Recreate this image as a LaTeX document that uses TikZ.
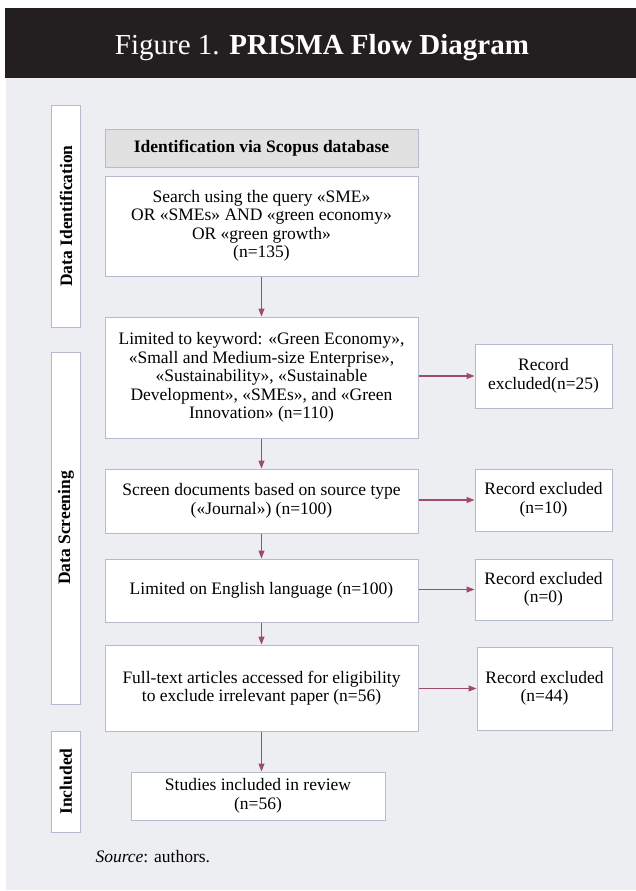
\documentclass[tikz,border=0pt]{standalone}
\usepackage{fontspec}
\setmainfont{Liberation Serif}
\usetikzlibrary{arrows.meta}

\definecolor{barcol}{HTML}{231F20}
\definecolor{bgcol}{HTML}{EDEEF2}
\definecolor{edgecol}{HTML}{B6BACF}
\definecolor{headcol}{HTML}{E1E1E2}
\definecolor{linkcol}{HTML}{9E4A72}

\tikzstyle{element}=[rectangle, draw=edgecol, fill=white, line width=1pt,
                     inner sep=0pt, align=center,
                     font=\fontsize{17.5}{18.5}\selectfont]
\tikzstyle{phase}=[element, rotate=90, font=\fontsize{17.5}{18.5}\selectfont\bfseries]
\tikzstyle{link}=[-{Triangle[length=8pt,width=6pt]}, line width=1.3pt, draw=linkcol, fill=linkcol]

\begin{document}
\begin{tikzpicture}[x=1pt, y=-1pt]

\useasboundingbox (0,0) rectangle (636,891);

%%%%%%%%%%%%%%%%%%%%%%%%%%%%%%
% frame

\fill[bgcol] (6,78) rectangle (636,890);
\fill[barcol] (5,8) rectangle (636,78);
\node (title) at (322,55) [anchor=base, text=white, font=\fontsize{29}{31}\selectfont]
      {Figure 1. \textbf{PRISMA Flow Diagram}};

%%%%%%%%%%%%%%%%%%%%%%%%%%%%%%
% phases

\node (ident_P) at (66,216) [phase, minimum width=222pt, minimum height=29pt] {Data Identification};
\node (screen_P) at (66,528) [phase, minimum width=352pt, minimum height=29pt] {Data Screening};
\node (incl_P) at (66,781.5) [phase, minimum width=101pt, minimum height=29pt] {Included};

%%%%%%%%%%%%%%%%%%%%%%%%%%%%%%
% nodes

\node (head) at (261.5,148) [element, fill=headcol, minimum width=313pt, minimum height=38pt,
      font=\fontsize{17.5}{18.5}\selectfont\bfseries] {Identification via Scopus database};

\node (search) at (261.5,226) [element, minimum width=313pt, minimum height=100pt]
      {Search using the query «SME»\\ OR «SMEs» AND «green economy»\\ OR «green growth»\\ (n=135)};

\node (keyword) at (261.5,377.5) [element, minimum width=313pt, minimum height=121pt]
      {Limited to keyword: «Green Economy»,\\ «Small and Medium-size Enterprise»,\\
       «Sustainability», «Sustainable\\ Development», «SMEs», and «Green\\ Innovation» (n=110)};

\node (source) at (261.5,501) [element, minimum width=313pt, minimum height=64pt]
      {Screen documents based on source type\\ («Journal») (n=100)};

\node (lang) at (261.5,590.5) [element, minimum width=313pt, minimum height=63pt]
      {Limited on English language (n=100)};

\node (full) at (261.5,688) [element, minimum width=313pt, minimum height=86pt]
      {Full-text articles accessed for eligibility\\ to exclude irrelevant paper (n=56)};

\node (incl) at (258,796) [element, minimum width=254pt, minimum height=48pt]
      {Studies included in review\\ (n=56)};

% excluded
\node (ex_keyword) at (543.5,376) [element, minimum width=137pt, minimum height=64pt]
      {Record\\ excluded(n=25)};
\node (ex_source) at (543.5,500) [element, minimum width=137pt, minimum height=62pt]
      {Record excluded\\ (n=10)};
\node (ex_lang) at (543.5,589.5) [element, minimum width=137pt, minimum height=61pt]
      {Record excluded\\ (n=0)};
\node (ex_full) at (544.5,688.5) [element, minimum width=135pt, minimum height=83pt]
      {Record excluded\\ (n=44)};

\node (note) at (92,862) [anchor=base west, font=\fontsize{17.5}{18.5}\selectfont]
      {\textit{Source}: authors.};

%%%%%%%%%%%%%%%%%%%%%%%%%%%%%%
% links

\draw [link] (search) to (keyword);
\draw [link] (keyword) to (source);
\draw [link] (source) to (lang);
\draw [link] (lang) to (full);
\draw [link] (full.south) to (full.south |- incl.north);

\draw [link] (keyword.east |- ex_keyword.west) to (ex_keyword.west);
\draw [link] (source.east |- ex_source.west) to (ex_source.west);
\draw [link] (lang.east |- ex_lang.west) to (ex_lang.west);
\draw [link] (full.east |- ex_full.west) to (ex_full.west);

\end{tikzpicture}
\end{document}
